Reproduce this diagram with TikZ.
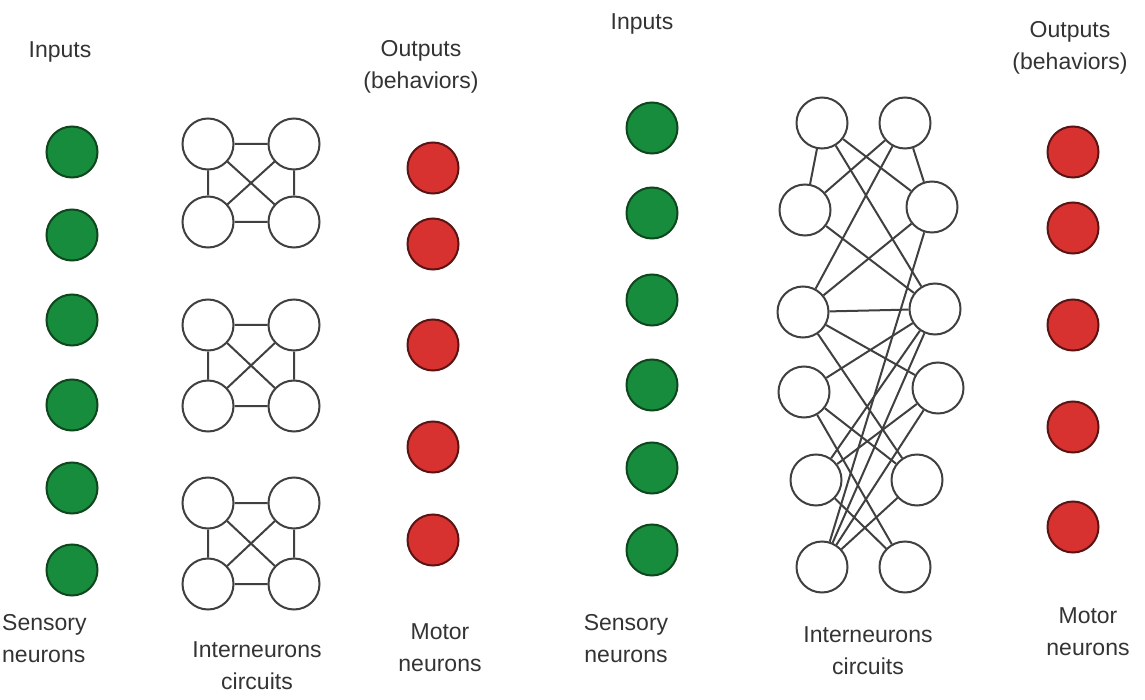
\documentclass[tikz,border=0pt]{standalone}
\usepackage{fontspec}
\setmainfont{Liberation Sans}
\begin{document}
\begin{tikzpicture}[x=1pt,y=-1pt,
  neuron/.style={circle,draw,line width=2pt,minimum size=51pt,inner sep=0pt},
  inter/.style={neuron,draw=black!75,fill=white},
  sensory/.style={neuron,draw={rgb,255:red,15;green,70;blue,30},fill={rgb,255:red,22;green,140;blue,60}},
  motor/.style={neuron,draw={rgb,255:red,90;green,20;blue,20},fill={rgb,255:red,215;green,50;blue,48}},
  link/.style={line width=2pt,draw=black!75},
  lbl/.style={font=\fontsize{23}{32}\selectfont,text=black!80,align=center,inner sep=0pt}]
\useasboundingbox (0,0) rectangle (1145,700);

% ---------- left panel ----------
\foreach \y [count=\i] in {152,235,320,405,488,570}
  \node[sensory] (ls\i) at (72,\y) {};
\foreach \y [count=\i] in {168,244,345,447,540}
  \node[motor] (lm\i) at (433,\y) {};

% three fully connected four-cell circuits
\foreach \yt/\yb [count=\k] in {144/222,325/406,503/584}{
  \node[inter] (c\k a) at (208,\yt) {};
  \node[inter] (c\k b) at (294,\yt) {};
  \node[inter] (c\k c) at (208,\yb) {};
  \node[inter] (c\k d) at (294,\yb) {};
  \draw[link] (c\k a) -- (c\k b) (c\k c) -- (c\k d)
              (c\k a) -- (c\k c) (c\k b) -- (c\k d)
              (c\k a) -- (c\k d) (c\k b) -- (c\k c);
}

\node[lbl] (lin) at (60,52) {Inputs};
\node[lbl] (lout) at (421,67) {Outputs\\(behaviors)};
\node[lbl,align=left,anchor=west] (lsen) at (2,639) {Sensory\\neurons};
\node[lbl] (lint) at (257,666) {Interneurons\\circuits};
\node[lbl] (lmot) at (440,648) {Motor\\neurons};

% ---------- right panel ----------
\foreach \y [count=\i] in {128,213,300,385,468,550}
  \node[sensory] (rs\i) at (652,\y) {};
\foreach \y [count=\i] in {152,228,325,427,527}
  \node[motor] (rm\i) at (1073,\y) {};

\node[inter] (A1) at (822,123) {};
\node[inter] (A2) at (905,123) {};
\node[inter] (B1) at (805,210) {};
\node[inter] (B2) at (932,207) {};
\node[inter] (C1) at (803,312) {};
\node[inter] (C2) at (935,309) {};
\node[inter] (D1) at (804,392) {};
\node[inter] (D2) at (938,388) {};
\node[inter] (E1) at (816,480) {};
\node[inter] (E2) at (917,480) {};
\node[inter] (F1) at (822,567) {};
\node[inter] (F2) at (905,567) {};

\foreach \p/\q in {A1/B1,A1/B2,A1/C2,A2/B1,A2/B2,A2/C1,B1/C2,B2/C1,B2/F1,
                   C1/C2,C1/D2,C1/E2,C2/D1,C2/E1,C2/F1,D1/E2,D1/F2,
                   D2/E1,D2/F1,E1/F2,E2/F1}
  \draw[link] (\p) -- (\q);

\node[lbl] (rin) at (642,24) {Inputs};
\node[lbl] (rout) at (1070,48) {Outputs\\(behaviors)};
\node[lbl] (rsen) at (626,639) {Sensory\\neurons};
\node[lbl] (rint) at (868,651) {Interneurons\\circuits};
\node[lbl] (rmot) at (1088,632) {Motor\\neurons};
\end{tikzpicture}
\end{document}
